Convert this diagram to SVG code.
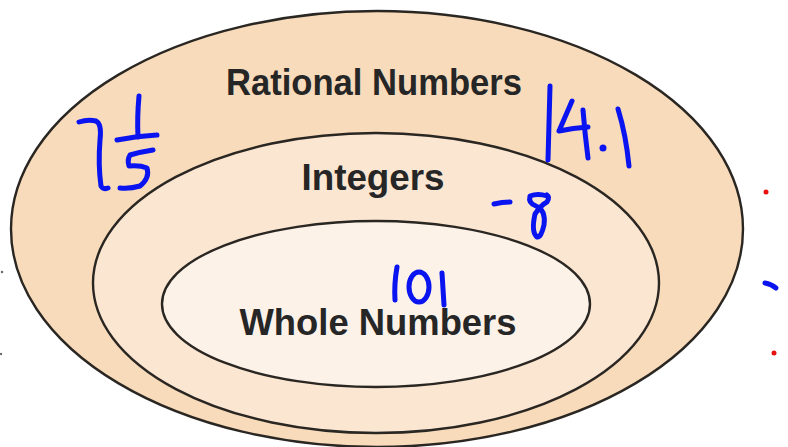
<svg xmlns="http://www.w3.org/2000/svg" width="788" height="447" viewBox="0 0 788 447">
<style>
.ring{stroke:#2a2622;stroke-width:2.4}
.lbl{font-family:"Liberation Sans",Arial,sans-serif;font-weight:bold;font-size:36px;fill:#262626;text-anchor:middle}
.ink{fill:none;stroke:#0a14f0;stroke-width:5;stroke-linecap:round;stroke-linejoin:round}
</style>
<rect width="788" height="447" fill="#ffffff"/>
<g id="rational">
<ellipse class="ring" cx="377" cy="229" rx="366" ry="218" fill="#f8dbbb"/>
<text class="lbl" x="374" y="95" textLength="296" lengthAdjust="spacingAndGlyphs">Rational Numbers</text>
</g>
<g id="integers">
<ellipse class="ring" cx="376" cy="283" rx="283" ry="150" fill="#fbe6d2"/>
<text class="lbl" x="373" y="190" textLength="143" lengthAdjust="spacingAndGlyphs">Integers</text>
</g>
<g id="whole">
<ellipse class="ring" cx="376" cy="304" rx="214" ry="83" fill="#fcf2e8"/>
<text class="lbl" x="378" y="335" textLength="277" lengthAdjust="spacingAndGlyphs">Whole Numbers</text>
</g>
<g id="handwriting">
<path class="ink" d="M79 122 Q88 119 96 121 Q102 124 100 140 Q98 165 101 186 Q103 190 108 188"/>
<path class="ink" d="M139 96 Q137 118 138 137"/>
<path class="ink" d="M117 140 Q137 136 157 135"/>
<path class="ink" d="M153 150 Q140 152 130 155 Q127 160 129 166 Q140 165 147 168 Q150 178 140 186 Q130 189 120 188"/>
<path class="ink" d="M550 86 Q549 120 548 160"/>
<path class="ink" d="M572 101 Q565 117 559 131 Q573 128 588 127"/>
<path class="ink" d="M583 110 Q585 135 588 158"/>
<circle cx="603" cy="148" r="3.5" fill="#0a14f0"/>
<path class="ink" d="M618 109 Q626 135 629 166"/>
<path class="ink" d="M494 204 Q502 202 510 202"/>
<path class="ink" d="M547 196 Q538 193 530 196 Q528 203 536 206 Q546 210 544 225 Q541 238 537 237 Q531 232 535 214 Q541 205 547 202 Q550 197 547 195"/>
<path class="ink" d="M397 267 Q394 284 395 300"/>
<ellipse class="ink" cx="419" cy="287" rx="10" ry="15"/>
<path class="ink" d="M442 273 Q443 290 444 305"/>
<circle cx="766" cy="192" r="2.5" fill="#e81010"/>
<path class="ink" d="M765 283 Q771 284 776 288"/>
<circle cx="774" cy="353" r="2.5" fill="#e81010"/>
<circle cx="2" cy="272" r="1.2" fill="#666"/>
<circle cx="1" cy="354" r="1.2" fill="#666"/>
</g>
</svg>
